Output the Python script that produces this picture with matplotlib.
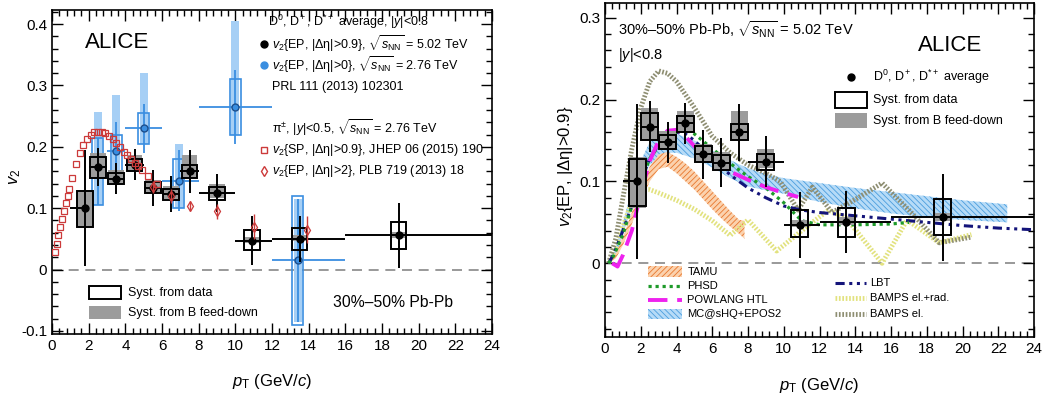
#!/usr/bin/env python3
"""
D-meson elliptic flow in 30-50% Pb-Pb: comparison with 2.76 TeV results
(left) and with transport model calculations (right).
"""

import numpy as np
import matplotlib
matplotlib.use('Agg')
import matplotlib.pyplot as plt
from matplotlib.patches import Rectangle
from matplotlib.ticker import MultipleLocator, AutoMinorLocator, FuncFormatter

plt.rcParams['font.family'] = ['Liberation Sans', 'DejaVu Sans']
plt.rcParams['mathtext.fontset'] = 'custom'
plt.rcParams['mathtext.rm'] = 'Liberation Sans'
plt.rcParams['mathtext.it'] = 'Liberation Sans:italic'
plt.rcParams['mathtext.bf'] = 'Liberation Sans:bold'
plt.rcParams['hatch.linewidth'] = 0.6

# --- D0, D+, D*+ average, 5.02 TeV ---
d_pt = [1.8, 2.5, 3.5, 4.5, 5.5, 6.5, 7.5, 9.0, 10.9, 13.5, 18.9]
d_pt_lo = [1, 2, 3, 4, 5, 6, 7, 8, 10, 12, 16]
d_pt_hi = [2, 3, 4, 5, 6, 7, 8, 10, 12, 16, 24]
d_v2 = [0.100, 0.167, 0.148, 0.171, 0.133, 0.123, 0.160, 0.124, 0.047, 0.050, 0.056]
d_stat = [0.095, 0.031, 0.025, 0.025, 0.030, 0.030, 0.035, 0.031, 0.040, 0.038, 0.053]
d_syst_lo = [0.070, 0.150, 0.139, 0.160, 0.124, 0.114, 0.150, 0.114, 0.032, 0.032, 0.034]
d_syst_hi = [0.128, 0.183, 0.157, 0.180, 0.143, 0.132, 0.170, 0.134, 0.065, 0.068, 0.078]
d_fd_lo = [0.068, 0.150, 0.138, 0.160, 0.125, 0.115, 0.150, 0.117, 0.044, 0.047, 0.052]
d_fd_hi = [0.130, 0.190, 0.162, 0.186, 0.146, 0.136, 0.186, 0.140, 0.053, 0.056, 0.061]

# --- D mesons, 2.76 TeV (PRL 111 (2013) 102301) ---
d276_pt = [2.5, 3.5, 5.0, 6.9, 10.0, 13.4]
d276_pt_lo = [2, 3, 4, 6, 8, 12]
d276_pt_hi = [3, 4, 6, 8, 12, 16]
d276_v2 = [0.160, 0.193, 0.230, 0.145, 0.265, 0.015]
d276_stat = [0.055, 0.048, 0.040, 0.050, 0.060, 0.100]
d276_syst_lo = [0.105, 0.155, 0.205, 0.100, 0.220, -0.090]
d276_syst_hi = [0.215, 0.220, 0.255, 0.180, 0.310, 0.120]
d276_fd_lo = [0.105, 0.160, 0.205, 0.100, 0.220, -0.085]
d276_fd_hi = [0.257, 0.285, 0.320, 0.205, 0.405, 0.115]

# --- charged pions, 2.76 TeV ---
pi_sp_pt = [0.15, 0.25, 0.35, 0.45, 0.55, 0.65, 0.75, 0.85, 0.95, 1.1, 1.3, 1.5,
            1.7, 1.9, 2.1, 2.3, 2.5, 2.7, 2.9, 3.1, 3.3, 3.5, 3.7, 3.9, 4.1,
            4.3, 4.5, 4.7, 4.9, 5.25, 5.75]
pi_sp_v2 = [0.028, 0.042, 0.056, 0.069, 0.083, 0.096, 0.108, 0.120, 0.132, 0.150,
            0.172, 0.190, 0.203, 0.213, 0.220, 0.224, 0.225, 0.225, 0.222, 0.218,
            0.212, 0.206, 0.199, 0.192, 0.186, 0.180, 0.174, 0.168, 0.162, 0.152,
            0.140]
pi_ep_pt = [5.5, 6.5, 7.5, 9.0, 11.0, 13.9]
pi_ep_v2 = [0.135, 0.120, 0.103, 0.095, 0.070, 0.065]
pi_ep_err = [0.010, 0.012, 0.008, 0.012, 0.020, 0.022]

# --- model calculations ---
tamu_pt = [0.2, 0.6, 1.0, 1.5, 2.0, 2.5, 3.0, 3.5, 4.0, 4.5, 5.0, 5.5, 6.0, 6.5, 7.0, 7.5, 7.8]
tamu_hi = [0.002, 0.012, 0.032, 0.062, 0.092, 0.118, 0.133, 0.136, 0.130, 0.122,
           0.112, 0.100, 0.088, 0.076, 0.064, 0.053, 0.052]
tamu_lo = [0.0, 0.006, 0.022, 0.048, 0.075, 0.100, 0.115, 0.118, 0.110, 0.100,
           0.090, 0.078, 0.066, 0.055, 0.045, 0.036, 0.030]

mc_pt = [0.3, 0.6, 1.0, 1.5, 2.0, 2.5, 3.0, 3.5, 4.0, 5.0, 6.0, 7.0, 8.0, 9.0,
         10.0, 12.0, 14.0, 16.0, 18.0, 20.0, 22.5]
mc_hi = [0.0, 0.020, 0.050, 0.090, 0.125, 0.148, 0.157, 0.160, 0.158, 0.150, 0.138,
         0.126, 0.116, 0.109, 0.104, 0.098, 0.092, 0.087, 0.082, 0.077, 0.072]
mc_lo = [0.0, 0.010, 0.035, 0.070, 0.100, 0.120, 0.130, 0.135, 0.135, 0.128, 0.117,
         0.104, 0.094, 0.089, 0.085, 0.075, 0.067, 0.061, 0.056, 0.053, 0.050]

phsd_pt = [0.2, 0.5, 1.0, 1.5, 2.0, 2.5, 3.0, 3.5, 4.0, 4.5, 5.0, 6.0, 7.0, 8.0,
           9.0, 10.0, 11.0, 12.0, 14.0, 16.0, 17.0]
phsd_v2 = [0.0, 0.010, 0.035, 0.070, 0.100, 0.128, 0.143, 0.153, 0.160, 0.163, 0.158,
           0.140, 0.122, 0.106, 0.092, 0.074, 0.052, 0.047, 0.047, 0.048, 0.050]

powlang_pt = [0.4, 0.7, 1.0, 1.5, 2.0, 2.5, 3.0, 3.5, 4.0, 4.5, 5.0, 6.0, 7.0, 8.0,
              9.0, 10.0, 10.8]
powlang_v2 = [0.0, -0.004, 0.010, 0.040, 0.085, 0.125, 0.150, 0.162, 0.163, 0.155,
              0.143, 0.125, 0.112, 0.102, 0.093, 0.086, 0.081]

lbt_pt = [0.2, 0.5, 1.0, 1.5, 2.0, 2.5, 3.0, 3.5, 4.0, 4.5, 5.0, 6.0, 7.0, 8.0, 9.0,
          10.0, 11.0, 12.0, 14.0, 16.0, 18.0, 20.0, 22.0, 24.0]
lbt_v2 = [0.0, 0.012, 0.040, 0.070, 0.100, 0.128, 0.145, 0.155, 0.160, 0.158, 0.150,
          0.128, 0.108, 0.092, 0.080, 0.070, 0.065, 0.062, 0.058, 0.054, 0.050, 0.046,
          0.043, 0.041]

bamps_rad_pt = [0.2, 0.6, 1.0, 1.5, 2.0, 2.5, 3.0, 4.0, 5.0, 6.0, 7.0, 8.0, 9.6,
                11.3, 12.5, 13.5, 15.5, 16.9, 18.7, 20.5]
bamps_rad_v2 = [0.0, 0.020, 0.045, 0.075, 0.090, 0.090, 0.086, 0.077, 0.066, 0.052,
                0.034, 0.053, 0.015, 0.045, 0.065, 0.055, 0.0, 0.053, 0.025, 0.035]

bamps_el_pt = [0.2, 0.6, 1.0, 1.5, 2.0, 2.5, 3.0, 3.5, 4.0, 5.0, 6.0, 7.0, 8.0, 9.0,
               9.8, 10.8, 11.6, 12.7, 14.0, 15.5, 17.0, 18.7, 20.5]
bamps_el_v2 = [0.0, 0.030, 0.080, 0.140, 0.190, 0.222, 0.235, 0.232, 0.222, 0.190,
               0.155, 0.135, 0.120, 0.110, 0.100, 0.065, 0.093, 0.062, 0.078, 0.098,
               0.065, 0.025, 0.032]

GREY = '#9c9c9c'
BLUE = '#3a8ee0'
LIGHT_BLUE = '#a6cff5'
RED = '#cc3a3a'

PT_LABEL = '$p_{\\rm T}$ (GeV/$c$)'
SQRTS = '$\\sqrt{s_{\\rm NN}}$'


def style_axes(ax, ymin, ymax):
    ax.set_xlim(0, 24)
    ax.set_ylim(ymin, ymax)
    ax.xaxis.set_major_locator(MultipleLocator(2))
    ax.xaxis.set_minor_locator(AutoMinorLocator(5))
    ax.yaxis.set_major_locator(MultipleLocator(0.1))
    ax.yaxis.set_minor_locator(AutoMinorLocator(5))
    ax.yaxis.set_major_formatter(FuncFormatter(
        lambda v, _: '0' if abs(v) < 1e-9 else f'{v:.1f}'))
    ax.tick_params(which='both', direction='in', top=True, right=True,
                   labelsize=11, width=1.0)
    ax.tick_params(which='major', length=8)
    ax.tick_params(which='minor', length=4)
    for s in ax.spines.values():
        s.set_linewidth(1.2)
    ax.axhline(0, color='#888888', lw=1.2, ls=(0, (6, 4)), zorder=1)


def draw_d_average(ax, box_w):
    pt = np.array(d_pt)
    for x, lo, hi in zip(d_pt, d_fd_lo, d_fd_hi):
        ax.add_patch(Rectangle((x - box_w / 2, lo), box_w, hi - lo,
                               facecolor=GREY, edgecolor='none', zorder=5))
    for x, lo, hi in zip(d_pt, d_syst_lo, d_syst_hi):
        ax.add_patch(Rectangle((x - box_w / 2, lo), box_w, hi - lo, fill=False,
                               edgecolor='black', lw=1.4, zorder=6))
    xerr = [pt - np.array(d_pt_lo), np.array(d_pt_hi) - pt]
    ax.errorbar(pt, d_v2, yerr=d_stat, xerr=xerr, fmt='o', color='black',
                ms=5, elinewidth=1.4, capsize=0, zorder=7)


def key_text(ax, x, y, label, size=9.0):
    ax.text(x, y, label, transform=ax.transAxes, fontsize=size,
            ha='left', va='center')


def key_box(ax, x0, x1, y, h, **kw):
    ax.add_patch(Rectangle((x0, y - h / 2), x1 - x0, h, transform=ax.transAxes,
                           clip_on=False, **kw))


def key_line(ax, x0, x1, y, **kw):
    ax.plot([x0, x1], [y, y], transform=ax.transAxes, clip_on=False, **kw)


def left_panel(ax):
    style_axes(ax, -0.105, 0.423)

    # 2.76 TeV D mesons
    for x, lo, hi in zip(d276_pt, d276_fd_lo, d276_fd_hi):
        ax.add_patch(Rectangle((x - 0.22, lo), 0.44, hi - lo,
                               facecolor=LIGHT_BLUE, edgecolor='none', zorder=2))
    for x, lo, hi in zip(d276_pt, d276_syst_lo, d276_syst_hi):
        ax.add_patch(Rectangle((x - 0.3, lo), 0.6, hi - lo, fill=False,
                               edgecolor=BLUE, lw=1.2, zorder=3))
    pt = np.array(d276_pt)
    xerr = [pt - np.array(d276_pt_lo), np.array(d276_pt_hi) - pt]
    ax.errorbar(pt, d276_v2, yerr=d276_stat, xerr=xerr, fmt='o', color=BLUE,
                mfc=BLUE, mec='#1d4f8c', ms=5, elinewidth=1.3, capsize=0, zorder=4)

    draw_d_average(ax, 0.85)

    # pions
    ax.plot(pi_sp_pt, pi_sp_v2, 's', mfc='none', mec=RED, ms=4.5, mew=0.9, zorder=8)
    ax.errorbar(pi_ep_pt, pi_ep_v2, yerr=pi_ep_err, fmt='d', mfc='none', mec=RED,
                color=RED, ms=5, mew=0.9, elinewidth=1.0, capsize=0, zorder=8)

    ax.text(0.075, 0.901, 'ALICE', transform=ax.transAxes, fontsize=16,
            ha='left', va='center')
    ax.text(0.639, 0.096, '30%–50% Pb-Pb', transform=ax.transAxes, fontsize=11.3,
            ha='left', va='center')

    tx, mx = 0.5, 0.482
    key_text(ax, tx - 0.01, 0.963, 'D$^0$, D$^+$, D$^{*+}$ average, |$y$|<0.8')
    ax.plot([mx], [0.895], 'o', color='black', ms=5, transform=ax.transAxes, clip_on=False)
    key_text(ax, tx, 0.895, '$v_2${EP, |Δη|>0.9}, ' + SQRTS + ' = 5.02 TeV')
    ax.plot([mx], [0.830], 'o', color=BLUE, ms=5, transform=ax.transAxes, clip_on=False)
    key_text(ax, tx, 0.830, '$v_2${EP, |Δη|>0}, ' + SQRTS + ' = 2.76 TeV')
    key_text(ax, tx, 0.762, 'PRL 111 (2013) 102301')
    key_text(ax, tx, 0.636, 'π$^{\\pm}$, |$y$|<0.5, ' + SQRTS + ' = 2.76 TeV')
    ax.plot([mx], [0.568], 's', mfc='none', mec=RED, ms=4.5, transform=ax.transAxes,
            clip_on=False)
    key_text(ax, tx, 0.568, '$v_2${SP, |Δη|>0.9}, JHEP 06 (2015) 190')
    ax.plot([mx], [0.503], 'd', mfc='none', mec=RED, ms=5, transform=ax.transAxes,
            clip_on=False)
    key_text(ax, tx, 0.503, '$v_2${EP, |Δη|>2}, PLB 719 (2013) 18')

    key_box(ax, 0.084, 0.157, 0.127, 0.040, fill=False, edgecolor='black', lw=1.4)
    key_text(ax, 0.173, 0.127, 'Syst. from data')
    key_box(ax, 0.084, 0.157, 0.065, 0.040, facecolor=GREY, edgecolor='none')
    key_text(ax, 0.173, 0.065, 'Syst. from B feed-down')

    ax.text(0.5, -0.148, PT_LABEL, transform=ax.transAxes, fontsize=12,
            ha='center', va='center')
    ax.text(-0.084, 0.485, '$v_2$', transform=ax.transAxes, fontsize=12,
            ha='center', va='center', rotation=90)


TAMU_STYLE = dict(facecolor='#fbd2ae', edgecolor='#e8772e', hatch='//////', lw=0)
MC_STYLE = dict(facecolor='#b6dbf7', edgecolor='#4b9ede', hatch='\\\\\\\\\\\\', lw=0)
PHSD_STYLE = dict(color='#1e9a2a', lw=2.3, ls=(0, (1, 1.2)))
POWLANG_STYLE = dict(color='#ee22ee', lw=2.8, ls=(0, (5, 2.5)))
LBT_STYLE = dict(color='#14147a', lw=2.2, ls=(0, (3, 1.5, 1, 1.5, 1, 1.5)))
BAMPS_RAD_STYLE = dict(color='#e2e27e', lw=3.5, ls=(0, (0.35, 0.35)))
BAMPS_EL_STYLE = dict(color='#8e8e72', lw=3.5, ls=(0, (0.35, 0.35)))


def right_panel(ax):
    style_axes(ax, -0.09, 0.318)

    ax.fill_between(mc_pt, mc_lo, mc_hi, zorder=2, **MC_STYLE)
    ax.fill_between(tamu_pt, tamu_lo, tamu_hi, zorder=2, **TAMU_STYLE)
    ax.plot(bamps_rad_pt, bamps_rad_v2, zorder=3, **BAMPS_RAD_STYLE)
    ax.plot(bamps_el_pt, bamps_el_v2, zorder=3, **BAMPS_EL_STYLE)
    ax.plot(lbt_pt, lbt_v2, zorder=4, **LBT_STYLE)
    ax.plot(phsd_pt, phsd_v2, zorder=4, **PHSD_STYLE)
    ax.plot(powlang_pt, powlang_v2, zorder=4, **POWLANG_STYLE)

    draw_d_average(ax, 0.95)

    ax.text(0.030, 0.919, '30%–50% Pb-Pb, ' + SQRTS + ' = 5.02 TeV',
            transform=ax.transAxes, fontsize=10.5, ha='left', va='center')
    ax.text(0.030, 0.844, '|$y$|<0.8', transform=ax.transAxes, fontsize=10.5,
            ha='left', va='center')
    ax.text(0.729, 0.874, 'ALICE', transform=ax.transAxes, fontsize=16,
            ha='left', va='center')

    ax.plot([0.574], [0.778], 'o', color='black', ms=5, transform=ax.transAxes,
            clip_on=False)
    key_text(ax, 0.625, 0.778, 'D$^0$, D$^+$, D$^{*+}$ average')
    key_box(ax, 0.537, 0.611, 0.709, 0.048, fill=False, edgecolor='black', lw=1.4)
    key_text(ax, 0.625, 0.709, 'Syst. from data')
    key_box(ax, 0.537, 0.611, 0.647, 0.045, facecolor=GREY, edgecolor='none')
    key_text(ax, 0.625, 0.647, 'Syst. from B feed-down')

    # model keys, two columns
    fs = 8
    key_box(ax, 0.100, 0.180, 0.195, 0.032, **TAMU_STYLE)
    key_text(ax, 0.192, 0.195, 'TAMU', size=fs)
    key_line(ax, 0.100, 0.180, 0.153, **PHSD_STYLE)
    key_text(ax, 0.192, 0.153, 'PHSD', size=fs)
    key_line(ax, 0.100, 0.180, 0.111, **POWLANG_STYLE)
    key_text(ax, 0.192, 0.111, 'POWLANG HTL', size=fs)
    key_box(ax, 0.100, 0.180, 0.069, 0.032, **MC_STYLE)
    key_text(ax, 0.192, 0.069, 'MC@sHQ+EPOS2', size=fs)

    key_line(ax, 0.537, 0.609, 0.162, **LBT_STYLE)
    key_text(ax, 0.618, 0.162, 'LBT', size=fs)
    key_line(ax, 0.537, 0.609, 0.117, **BAMPS_RAD_STYLE)
    key_text(ax, 0.618, 0.117, 'BAMPS el.+rad.', size=fs)
    key_line(ax, 0.537, 0.609, 0.069, **BAMPS_EL_STYLE)
    key_text(ax, 0.618, 0.069, 'BAMPS el.', size=fs)

    ax.text(0.5, -0.144, PT_LABEL, transform=ax.transAxes, fontsize=12,
            ha='center', va='center')
    ax.text(-0.093, 0.512, '$v_2${EP, |Δη|>0.9}', transform=ax.transAxes,
            fontsize=12, ha='center', va='center', rotation=90)


def main():
    fig = plt.figure(figsize=(10.43, 3.96), dpi=100)
    ax_left = fig.add_axes([0.0499, 0.1566, 0.4219, 0.8181])
    ax_right = fig.add_axes([0.5801, 0.1491, 0.4113, 0.8434])
    left_panel(ax_left)
    right_panel(ax_right)
    fig.savefig('out.png', dpi=100, facecolor='white')
    plt.close(fig)


if __name__ == '__main__':
    main()
